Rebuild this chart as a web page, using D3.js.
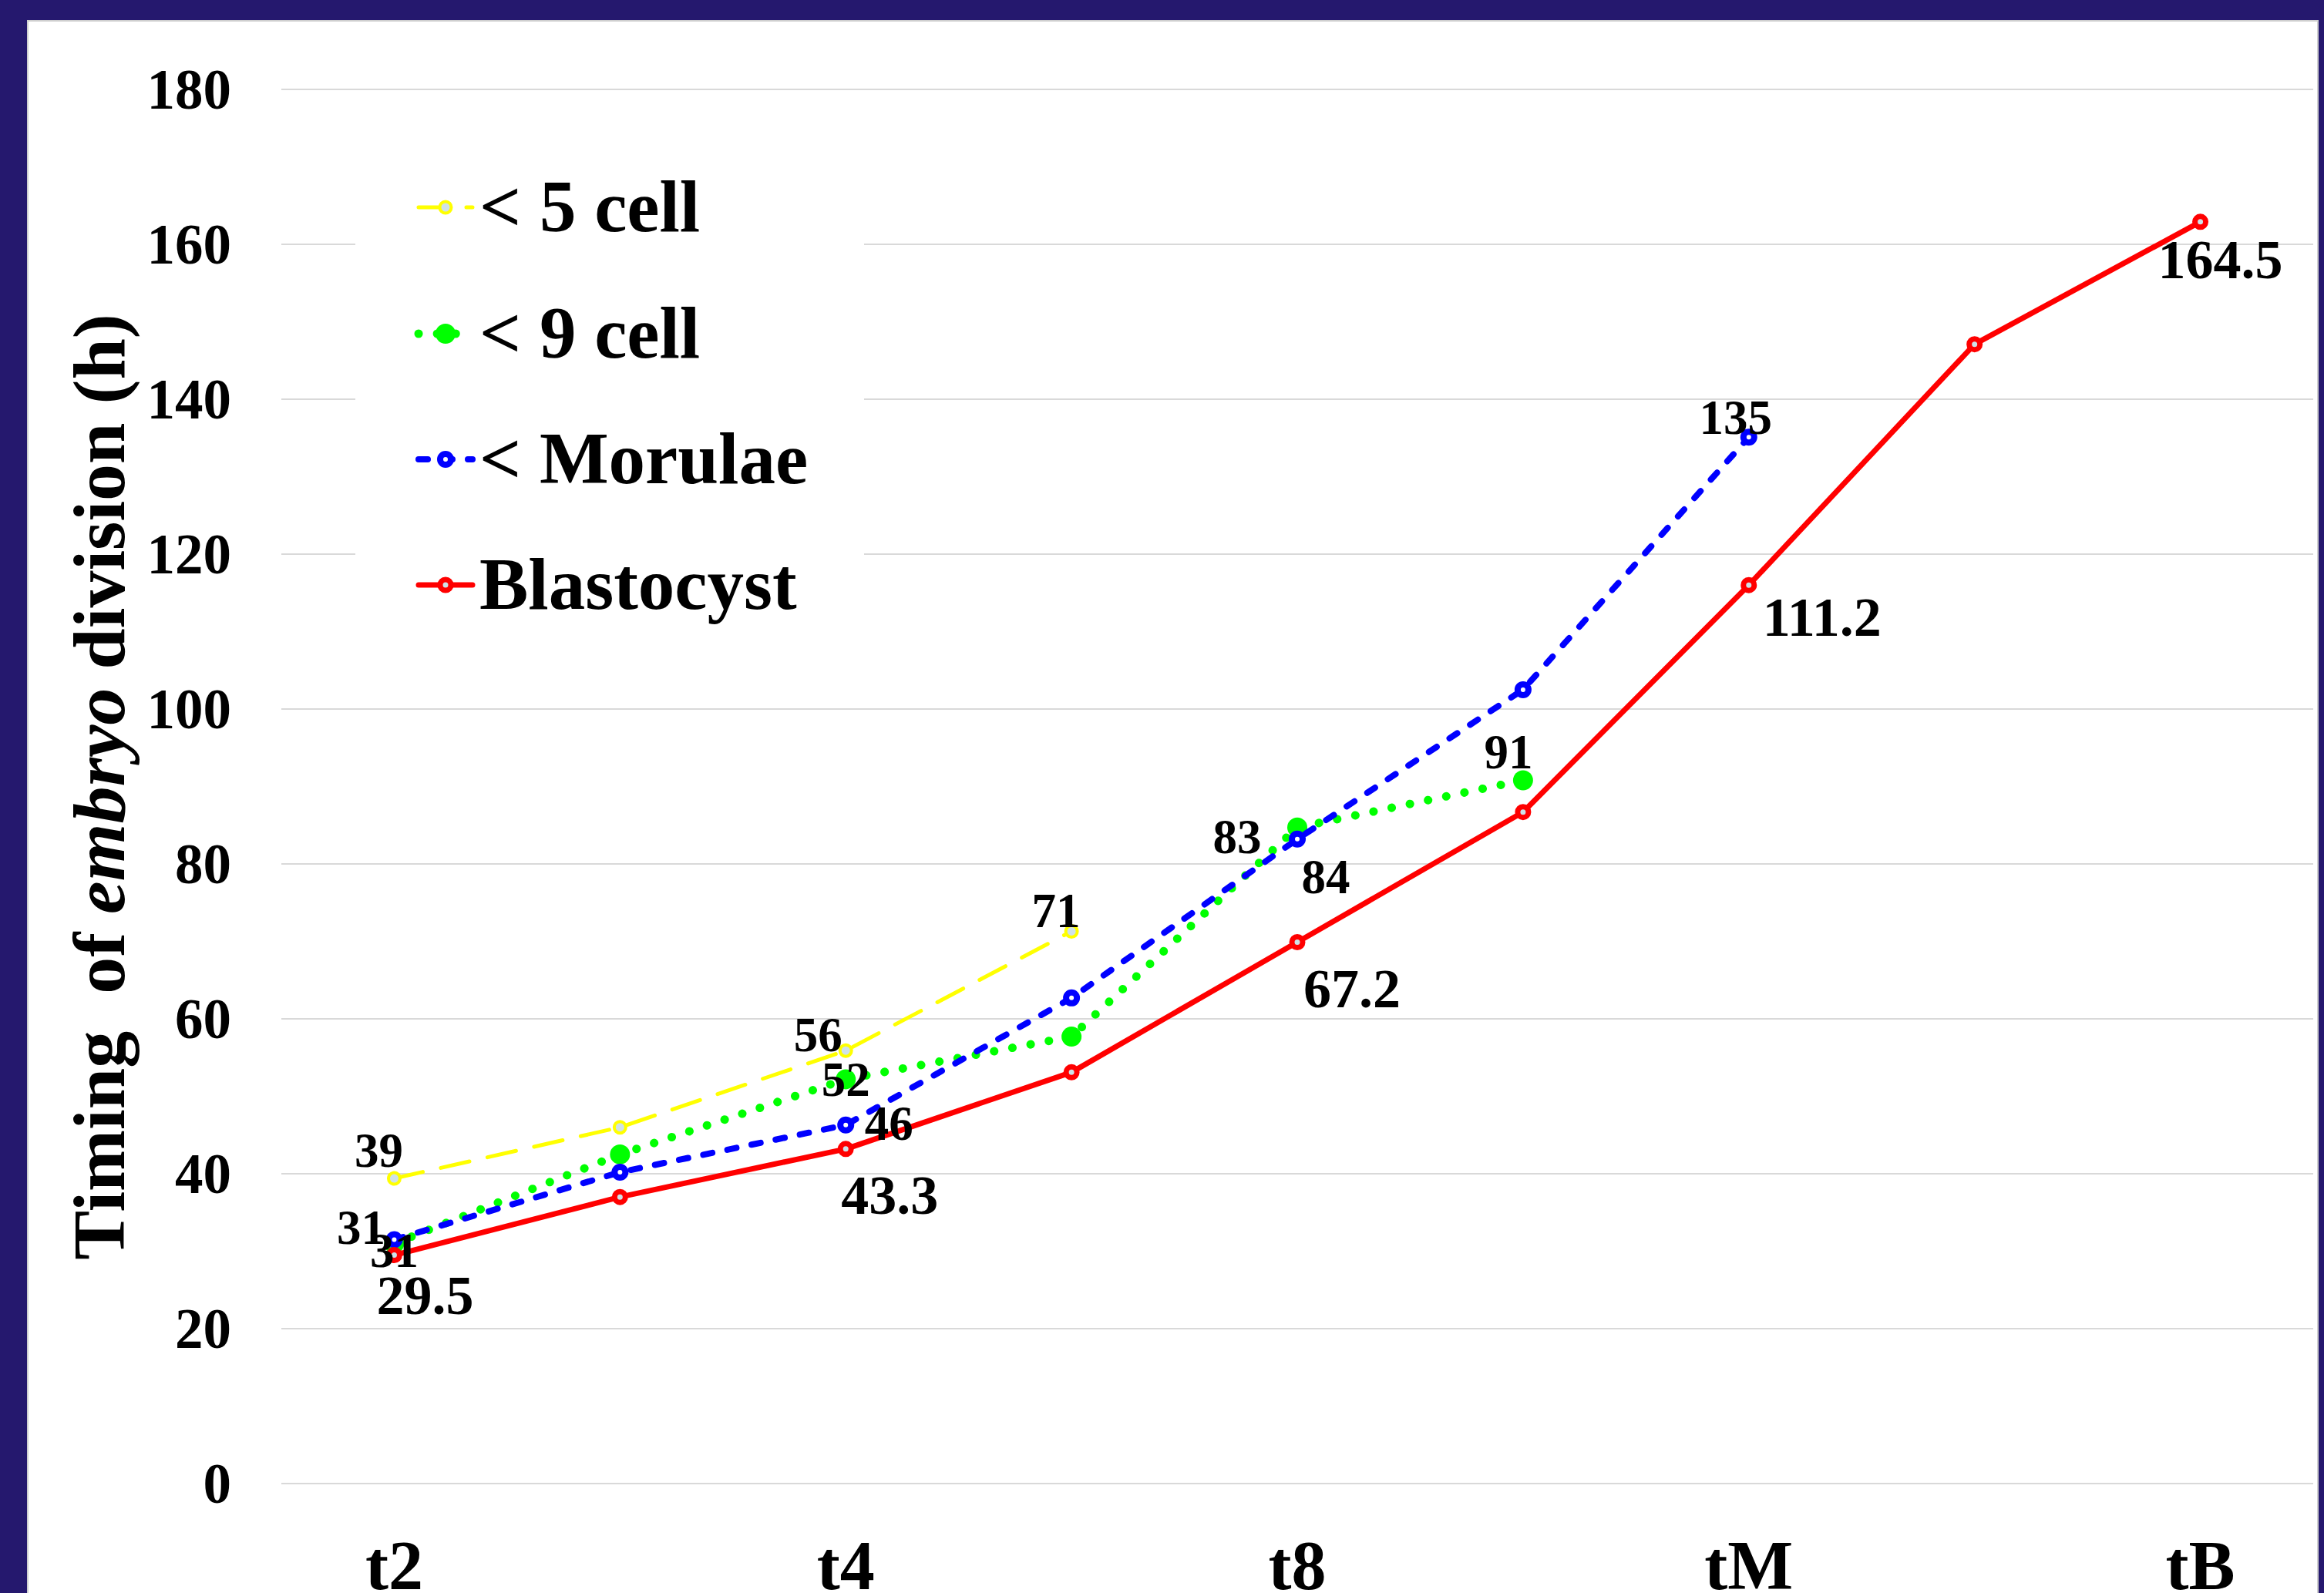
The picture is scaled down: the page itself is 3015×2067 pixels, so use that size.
<!DOCTYPE html>
<html><head><meta charset="utf-8">
<script src="https://cdn.jsdelivr.net/npm/d3@7"></script>
<style>
html,body{margin:0;padding:0;background:#25186E;}
svg{display:block;}
text{font-family:"Liberation Serif","Times New Roman",serif;font-weight:bold;fill:#000;}
</style></head><body>
<svg id="c" width="3015" height="2067"></svg>
<script>
// ---- data ----
const categories = ["t2","t3","t4","t5","t8","t9","tM","tSB","tB"];
const shownTicks = ["t2","t4","t8","tM","tB"];
const yTicks = [0,20,40,60,80,100,120,140,160,180];
const seriesNames = ["< 5 cell","< 9 cell","< Morulae","Blastocyst"];
const cell5Values = [39.4,46.0,55.9,71.3];
const cell9Values = [31.0,42.5,52.2,57.7,84.7,90.8];
const morulaeValues = [31.5,40.2,46.3,62.7,83.2,102.5,135.1];
const blastocystValues = [29.5,37.0,43.2,53.1,69.9,86.7,116.0,147.1,162.9];
const cell5Labels = ["39",null,"56","71"];
const cell9Labels = ["31",null,"52",null,"84","91"];
const morulaeLabels = ["31",null,"46",null,"83",null,"135"];
const blastocystLabels = ["29.5",null,"43.3",null,"67.2",null,"111.2",null,"164.5"];

// ---- styles ----
const styles = [
  {color:"#FFFF00", width:5, dash:"38,24", cap:"round", marker:{r:7.5, sw:4, fill:"#CFE2E8"}, labelSize:63,
   offsets:[[-20,-36],null,[-36,-21],[-20,-27]]},
  {color:"#00FF00", width:11, dash:"0.1,24", cap:"round", marker:{r:13, sw:0, fill:"#00FF00"}, labelSize:63,
   offsets:[[0,9],null,[0,0],null,[37,64],[-19,-37]]},
  {color:"#0000FF", width:8, dash:"12,20", cap:"round", marker:{r:7, sw:8, fill:"#FFFFFF"}, labelSize:63,
   offsets:[[-43,-16],null,[56,-2],null,[-78,-3],null,[-17,-26]]},
  {color:"#FF0000", width:7, dash:null, cap:"round", marker:{r:7, sw:7, fill:"#CFE2E8"}, labelSize:72,
   offsets:[[40,52],null,[57,60],null,[71,60],null,[95,41],null,[26,49]]}
];
const seriesValues = [cell5Values, cell9Values, morulaeValues, blastocystValues];
const seriesLabels = [cell5Labels, cell9Labels, morulaeLabels, blastocystLabels];

const svg = d3.select("#c");
const W = 3015, H = 2067;
const plot = {left:365, right:3001, top:116, bottom:1925};

// white chart area
svg.append("rect").attr("x",36).attr("y",27).attr("width",3007-36).attr("height",H)
  .attr("fill","#fff").attr("stroke","#cfcfcf").attr("stroke-width",2);

const x = d3.scaleBand().domain(categories).range([plot.left, plot.right]);
const y = d3.scaleLinear().domain([0,180]).range([plot.bottom, plot.top]);
const cx = c => x(c) + x.bandwidth()/2;

// gridlines
svg.append("g").selectAll("line").data(yTicks).join("line")
  .attr("x1",plot.left).attr("x2",plot.right)
  .attr("y1",d=>y(d)).attr("y2",d=>y(d))
  .attr("stroke","#d9d9d9").attr("stroke-width",2);

// y axis
const yAxis = svg.append("g").attr("transform",`translate(${plot.left},0)`)
  .call(d3.axisLeft(y).tickValues(yTicks).tickSize(0).tickPadding(65));
yAxis.select(".domain").remove();
yAxis.selectAll("text").attr("font-size",73).attr("dy","0.33em")
  .style("font-family",'"Liberation Serif","Times New Roman",serif').style("font-weight","bold").attr("fill","#000");

// x axis
const xAxis = svg.append("g").attr("transform",`translate(0,${plot.bottom})`)
  .call(d3.axisBottom(x).tickValues(shownTicks).tickSize(0));
xAxis.select(".domain").remove();
xAxis.selectAll("text").attr("font-size",90).attr("y",137).attr("dy",0)
  .style("font-family",'"Liberation Serif","Times New Roman",serif').style("font-weight","bold").attr("fill","#000");

// y title
const title = svg.append("text").attr("transform","translate(161,1021) rotate(-90)")
  .attr("text-anchor","middle").attr("font-size",96).style("white-space","pre");
title.append("tspan").text("Timing  of ");
title.append("tspan").attr("font-style","italic").text("embryo");
title.append("tspan").text(" division (h)");

// legend background
svg.append("rect").attr("x",461).attr("y",185).attr("width",660).attr("height",660).attr("fill","#fff");

// series
seriesValues.forEach((vals,i)=>{
  const st = styles[i];
  const pts = vals.map((v,j)=>({c:categories[j], v, label:seriesLabels[i][j], off:st.offsets[j]}));
  const line = d3.line().x(d=>cx(d.c)).y(d=>y(d.v));
  svg.append("path").datum(pts).attr("d",line).attr("fill","none")
    .attr("stroke",st.color).attr("stroke-width",st.width)
    .attr("stroke-linecap",st.cap).attr("stroke-linejoin","round")
    .attr("stroke-dasharray",st.dash);
  svg.append("g").selectAll("circle").data(pts).join("circle")
    .attr("cx",d=>cx(d.c)).attr("cy",d=>y(d.v)).attr("r",st.marker.r)
    .attr("fill",st.marker.fill).attr("stroke",st.color).attr("stroke-width",st.marker.sw);
});
// labels on top
seriesValues.forEach((vals,i)=>{
  const st = styles[i];
  const pts = vals.map((v,j)=>({c:categories[j], v, label:seriesLabels[i][j], off:st.offsets[j]})).filter(d=>d.label);
  svg.append("g").selectAll("text").data(pts).join("text")
    .attr("x",d=>cx(d.c)+d.off[0]).attr("y",d=>y(d.v)+d.off[1]+0.34*st.labelSize)
    .attr("text-anchor","middle").attr("font-size",st.labelSize).text(d=>d.label);
});

// legend
const legRows = [269,433,596,759];
seriesNames.forEach((name,i)=>{
  const st = styles[i];
  const g = svg.append("g");
  g.append("line").attr("x1",543).attr("x2",613).attr("y1",legRows[i]).attr("y2",legRows[i])
    .attr("stroke",st.color).attr("stroke-width",st.width).attr("stroke-linecap",st.cap)
    .attr("stroke-dasharray",st.dash);
  g.append("circle").attr("cx",578).attr("cy",legRows[i]).attr("r",st.marker.r)
    .attr("fill",st.marker.fill).attr("stroke",st.color).attr("stroke-width",st.marker.sw);
  g.append("text").attr("x",622).attr("y",legRows[i]+0.33*95).attr("font-size",95).text(name);
});
</script>
</body></html>
